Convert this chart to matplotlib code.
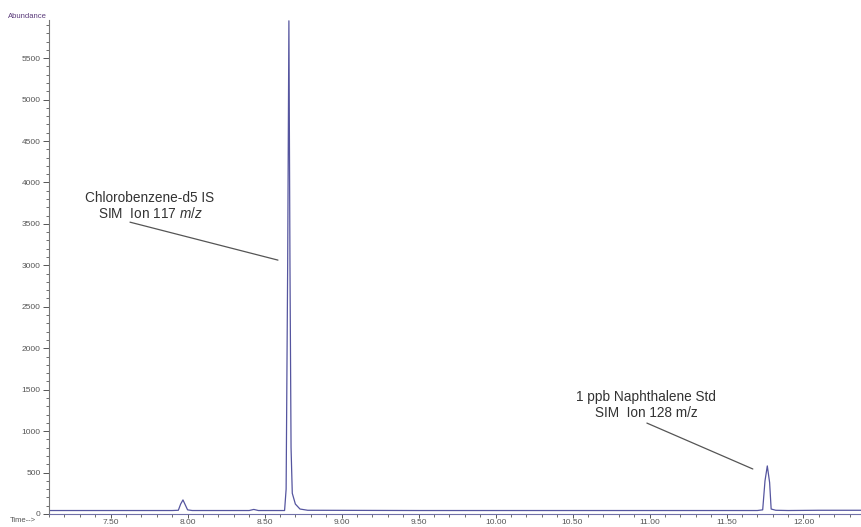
import matplotlib.pyplot as plt
from matplotlib.ticker import MultipleLocator, FormatStrFormatter

plt.rcParams['font.family'] = ['Liberation Sans', 'DejaVu Sans']
plt.rcParams['mathtext.fontset'] = 'custom'
plt.rcParams['mathtext.it'] = 'Liberation Sans:italic'
plt.rcParams['mathtext.rm'] = 'Liberation Sans'

# SIM chromatogram trace: retention time (min) vs abundance
time = [7.10, 7.50, 7.90, 7.94, 7.955, 7.97, 7.985, 8.00, 8.03, 8.40, 8.43, 8.46,
        8.630, 8.640, 8.650, 8.658, 8.665, 8.672, 8.680, 8.700, 8.730, 8.780,
        9.50, 10.50, 11.70, 11.735, 11.750, 11.765, 11.780, 11.790, 11.82, 11.90,
        12.10, 12.38]
abundance = [42, 42, 42, 45, 120, 170, 110, 50, 42, 42, 55, 42,
             42, 300, 3000, 5950, 3000, 800, 250, 120, 60, 45,
             42, 42, 42, 50, 400, 580, 380, 60, 45, 42,
             45, 45]

ion117_label = "Chlorobenzene-d5 IS\nSIM  Ion 117 $m/z$"
ion128_label = "1 ppb Naphthalene Std\nSIM  Ion 128 m/z"

fig = plt.figure(figsize=(8.62, 5.27), dpi=100)
ax = fig.add_axes([49 / 862, 13 / 527, 1 - 49 / 862, (514 - 20) / 527])

ax.plot(time, abundance, color='#55559f', lw=0.9)

ax.set_xlim(7.10, 12.38)
ax.set_ylim(0, 5960)

ax.xaxis.set_major_locator(MultipleLocator(0.5))
ax.xaxis.set_minor_locator(MultipleLocator(0.1))
ax.xaxis.set_major_formatter(FormatStrFormatter('%.2f'))
ax.yaxis.set_major_locator(MultipleLocator(500))
ax.yaxis.set_minor_locator(MultipleLocator(100))

ax.tick_params(which='major', length=4, width=0.7, labelsize=6, colors='#555555', pad=2)
ax.tick_params(which='minor', length=2, width=0.6, colors='#555555')
ax.tick_params(axis='x', which='major', length=3, pad=0.5)

for side in ['top', 'right']:
    ax.spines[side].set_visible(False)
ax.spines['left'].set_color('#777777')
ax.spines['bottom'].set_color('#7070a8')
ax.spines['left'].set_linewidth(0.8)
ax.spines['bottom'].set_linewidth(0.8)

fig.text(8 / 862, 1 - 17 / 527, "Abundance", fontsize=5.5, color='#5a3a7a', va='center')
fig.text(10 / 862, 1 - 521 / 527, "Time-->", fontsize=5.5, color='#555555', va='center')

ax.text(7.756, 3715, ion117_label, fontsize=9.8, ha='center', va='center',
        multialignment='center', color='#333333', linespacing=1.1)
ax.annotate("", xy=(8.587, 3063), xytext=(7.626, 3521),
            arrowprops=dict(arrowstyle='-', color='#555555', lw=0.9, shrinkA=0, shrinkB=0))

ax.text(10.977, 1315, ion128_label, fontsize=9.8, ha='center', va='center',
        multialignment='center', color='#333333', linespacing=1.1)
ax.annotate("", xy=(11.671, 543), xytext=(10.983, 1097),
            arrowprops=dict(arrowstyle='-', color='#555555', lw=0.9, shrinkA=0, shrinkB=0))

fig.savefig('out.png', dpi=100)
